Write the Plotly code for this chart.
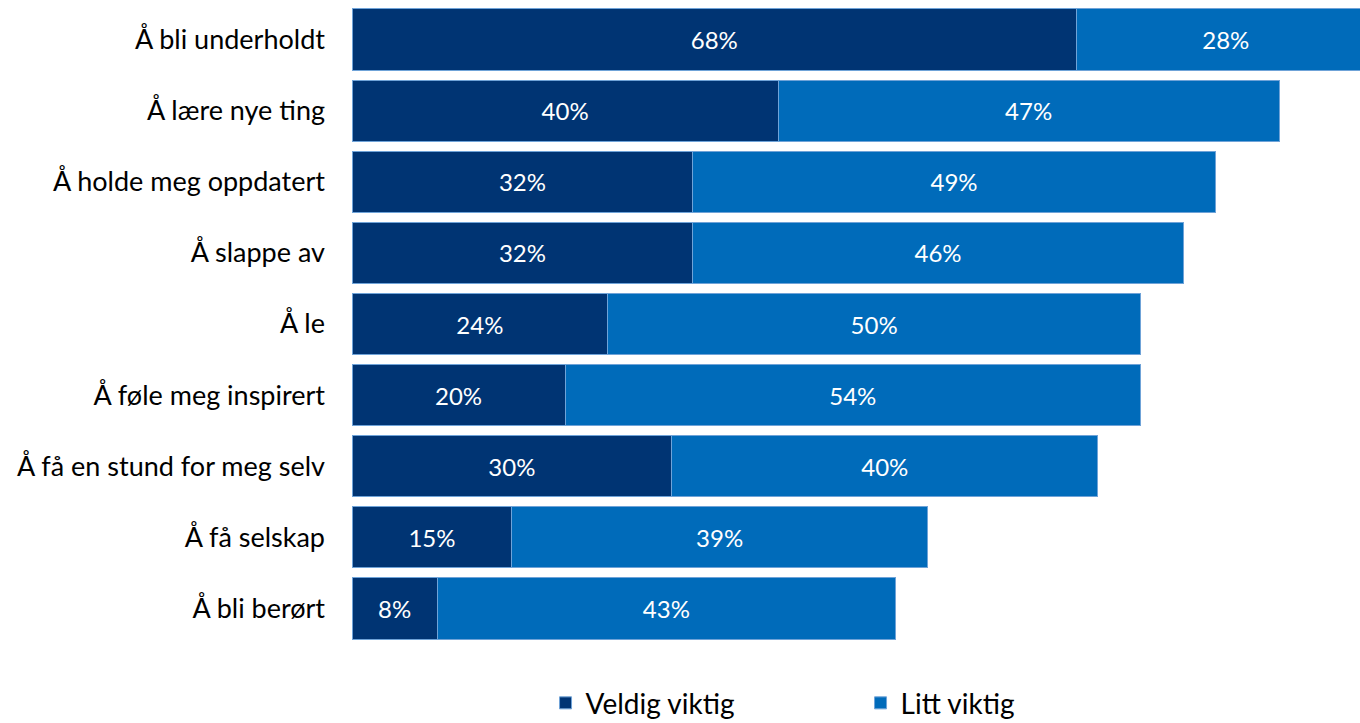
import plotly.graph_objects as go

# Reasons for use, top to bottom
categories = [
    "Å bli underholdt",
    "Å lære nye ting",
    "Å holde meg oppdatert",
    "Å slappe av",
    "Å le",
    "Å føle meg inspirert",
    "Å få en stund for meg selv",
    "Å få selskap",
    "Å bli berørt",
]
veldig_viktig = [68, 40, 32, 32, 24, 20, 30, 15, 8]
litt_viktig = [28, 47, 49, 46, 50, 54, 40, 39, 43]

DARK = "#003473"
LIGHT = "#006BBA"
FONT = "Lato, 'Open Sans', sans-serif"

fig = go.Figure()
for name, vals, col in [
    ("Veldig viktig", veldig_viktig, DARK),
    ("Litt viktig", litt_viktig, LIGHT),
]:
    fig.add_trace(go.Bar(
        y=categories,
        x=vals,
        name=name,
        orientation="h",
        marker=dict(color=col, line=dict(color="#6FA3D8", width=1)),
        text=[f"{v}%" for v in vals],
        textposition="inside",
        insidetextanchor="middle",
        textangle=0,
        textfont=dict(family=FONT, size=24, color="white"),
        hoverinfo="skip",
    ))

fig.update_layout(
    barmode="stack",
    bargap=0.14,
    width=1360,
    height=723,
    margin=dict(l=352, r=0, t=4, b=79),
    plot_bgcolor="white",
    paper_bgcolor="white",
    uniformtext=dict(mode=False),
    font=dict(family=FONT, color="#000000"),
    showlegend=True,
    legend=dict(
        orientation="h",
        x=0.192,
        xanchor="left",
        xref="paper",
        y=0.062,
        yanchor="top",
        yref="container",
        font=dict(family=FONT, size=28, color="#000000"),
        entrywidth=270,
        entrywidthmode="pixels",
        traceorder="normal",
    ),
)
fig.update_xaxes(
    range=[0, 94.6],
    visible=False,
    showgrid=False,
    zeroline=False,
    fixedrange=True,
)
fig.update_yaxes(
    categoryorder="array",
    categoryarray=categories[::-1],
    autorange=False,
    range=[-0.5, len(categories) - 0.5],
    showgrid=False,
    zeroline=False,
    showline=False,
    ticks="",
    ticklabelstandoff=26,
    tickfont=dict(family=FONT, size=27, color="#000000"),
)

fig.write_html("out.html")
